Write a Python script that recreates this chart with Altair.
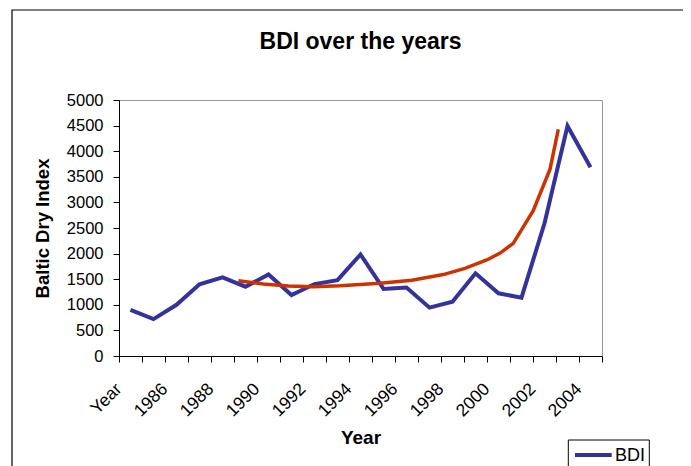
import altair as alt
import pandas as pd

# ---- data ----
categories = ["Year", "1985", "1986", "1987", "1988", "1989", "1990", "1991", "1992",
              "1993", "1994", "1995", "1996", "1997", "1998", "1999", "2000", "2001",
              "2002", "2003", "2004"]
bdi_values = [900, 720, 1000, 1400, 1537, 1354, 1592, 1191, 1405, 1482, 1983, 1309,
              1338, 944, 1061, 1615, 1224, 1139, 2592, 4492, 3685]
trend_pos = [4.69, 5.77, 6.86, 7.95, 9.11, 10.85, 12.23, 13.60, 14.54, 15.49, 16.07,
             16.64, 17.51, 18.24, 18.60]
trend_values = [1471, 1406, 1367, 1354, 1373, 1419, 1480, 1590, 1712, 1875, 2010,
                2200, 2840, 3650, 4427]
y_ticks = [0, 500, 1000, 1500, 2000, 2500, 3000, 3500, 4000, 4500, 5000]
legend_label = ["BDI"]

FONT = "Liberation Sans"
BLUE = "#333399"
RED = "#CC3300"
W, H = 483, 256

df_bdi = pd.DataFrame({"pos": list(range(len(categories))), "value": bdi_values})
df_trend = pd.DataFrame({"pos": trend_pos, "value": trend_values})
df_one = pd.DataFrame({"label": legend_label})

label_expr = "[" + ",".join('"%s"' % c for c in categories) + "][datum.value]"

x_scale = alt.Scale(domain=[-0.5, len(categories) - 0.5], nice=False, zero=False)
y_scale = alt.Scale(domain=[0, 5000], nice=False, zero=True)

y_axis = alt.Axis(title="Baltic Dry Index", values=y_ticks, format="d", tickSize=6,
                  labelPadding=10, titleX=-77, titleY=H / 2, titleAngle=270,
                  titleAlign="center", titleBaseline="middle", titleFontSize=18.5,
                  titleFontWeight="bold", labelFontSize=16.5, domainColor="black",
                  tickColor="black", labelColor="black", titleColor="black", grid=False)

tick_axis = alt.Axis(orient="bottom",
                     values=[i - 0.5 for i in range(len(categories) + 1)],
                     labels=False, tickSize=6, title=None, domainColor="black",
                     tickColor="black", grid=False, labelFlush=False)

label_axis = alt.Axis(orient="bottom", values=list(range(0, len(categories), 2)),
                      ticks=False, tickSize=0, domain=False, labelExpr=label_expr,
                      labelAngle=315, labelAlign="right", labelBaseline="middle",
                      labelOffset=-12, labelPadding=30, labelFontSize=17.5,
                      labelColor="black", labelOverlap=False, labelFlush=False,
                      title="Year", titleX=W / 2, titleY=81, titleBaseline="middle",
                      titleAlign="center", titleFontSize=19, titleFontWeight="bold",
                      titleColor="black", grid=False)

border = alt.Chart(df_one).mark_rect(fill="transparent", stroke="black",
                                     strokeWidth=1.2, clip=False).encode(
    x=alt.value(-107), x2=alt.value(600), y=alt.value(-90), y2=alt.value(430))

blue = alt.Chart(df_bdi).mark_line(color=BLUE, strokeWidth=4).encode(
    x=alt.X("pos:Q", scale=x_scale, axis=tick_axis),
    y=alt.Y("value:Q", scale=y_scale, axis=y_axis))

red = alt.Chart(df_trend).mark_line(color=RED, strokeWidth=3.5).encode(
    x=alt.X("pos:Q", scale=x_scale, axis=label_axis),
    y=alt.Y("value:Q", scale=y_scale, axis=y_axis))

legend_box = alt.Chart(df_one).mark_rect(fill="white", stroke="black",
                                         strokeWidth=1, clip=False).encode(
    x=alt.value(449.3), x2=alt.value(530.3), y=alt.value(340), y2=alt.value(430))
legend_line = alt.Chart(df_one).mark_rule(color=BLUE, strokeWidth=4, clip=False).encode(
    x=alt.value(456), x2=alt.value(492.7), y=alt.value(355))
legend_text = alt.Chart(df_one).mark_text(align="left", baseline="alphabetic",
                                          fontSize=18, font=FONT, color="black",
                                          clip=False).encode(
    x=alt.value(496), y=alt.value(360.7), text="label:N")

chart = alt.layer(border, blue, red, legend_box, legend_line, legend_text).resolve_axis(
    x="independent"
).properties(
    width=W, height=H,
    autosize=alt.AutoSizeParams(type="none"),
    padding={"left": 111, "top": 92, "right": 81, "bottom": 110},
    background="white",
    title=alt.Title("BDI over the years", fontSize=23, fontWeight="bold", font=FONT,
                    anchor="middle", frame="group", baseline="alphabetic",
                    offset=-63, color="black"),
).configure(font=FONT).configure_view(
    stroke="#999999", strokeWidth=1
).configure_axis(labelFont=FONT, titleFont=FONT)

chart.save("out.html", embed_options={"renderer": "svg", "actions": False})
